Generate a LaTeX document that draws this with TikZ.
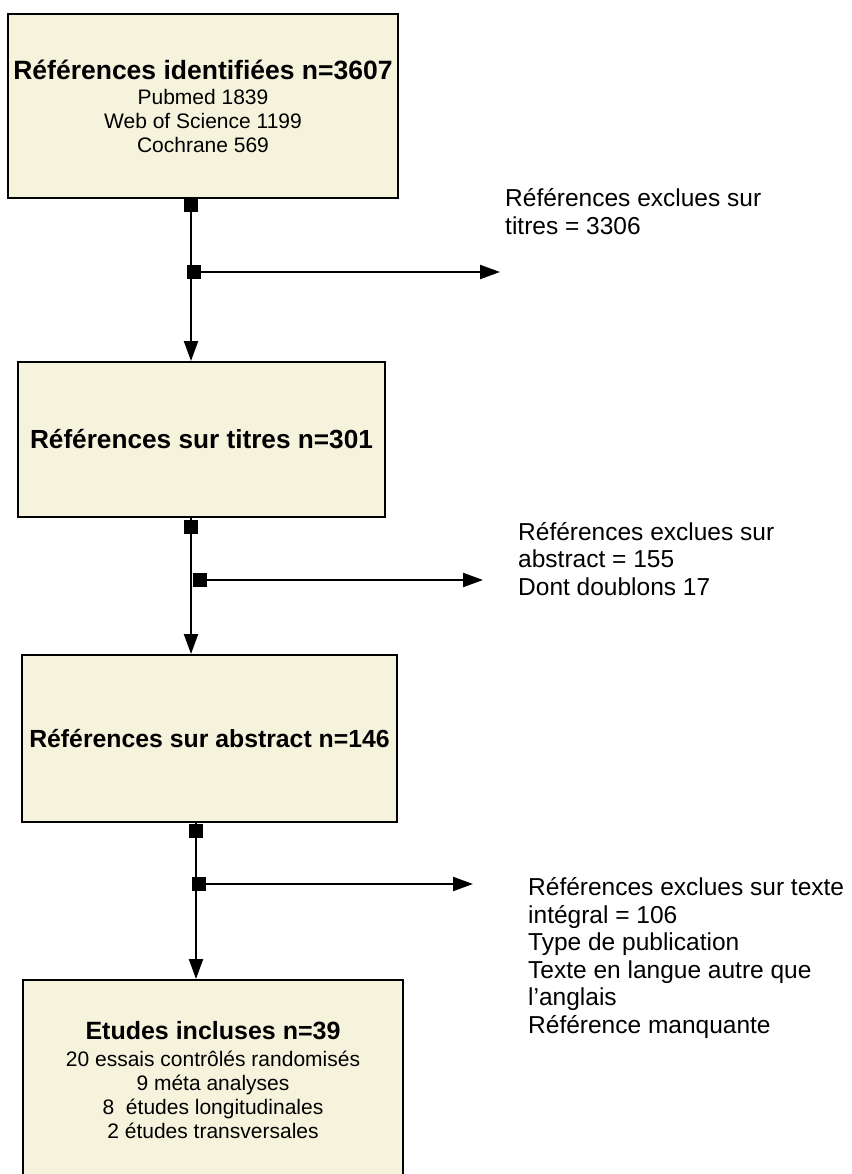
\documentclass[tikz,border=0pt]{standalone}
\usepackage{fontspec}
\setmainfont{Liberation Sans}
\usetikzlibrary{arrows.meta}
\definecolor{boxfill}{RGB}{246,243,221}
\newcommand{\titlefont}[1][26]{\fontsize{#1}{#1}\selectfont\bfseries}
\newcommand{\linefont}{\fontsize{21}{24}\selectfont}
\tikzset{
  stage/.style={draw=black,line width=2pt,fill=boxfill,align=center,inner sep=0pt,font=\linefont},
  joint/.style={fill=black,minimum size=14pt,inner sep=0pt},
  flow/.style={draw=black,line width=2.2pt,-{Triangle[length=20pt,width=14pt]}},
  excl/.style={anchor=west,align=left,inner sep=0pt,font=\fontsize{24.5}{27.5}\selectfont},
}
\begin{document}
\begin{tikzpicture}[x=1pt,y=-1pt]
  \useasboundingbox (0,0) rectangle (851,1174);
  \clip (0,0) rectangle (851,1174);
  % boxes
  \node[stage,minimum width=390pt,minimum height=184pt] (ident) at (203,106)
    {{\titlefont[26.5]Références identifiées n=3607}\\[1pt]Pubmed 1839\\Web of Science 1199\\Cochrane 569};
  \node[stage,minimum width=367pt,minimum height=155pt] (titres) at (201.5,439.5)
    {\titlefont[26.2]Références sur titres n=301};
  \node[stage,minimum width=375pt,minimum height=167pt] (abstr) at (209.5,738.5)
    {\titlefont[24.8]Références sur abstract n=146};
  \node[stage,minimum width=380pt,minimum height=200pt] (incl) at (213,1080)
    {{\titlefont[25]Etudes incluses n=39}\\[3pt]20 essais contrôlés randomisés\\9 méta analyses\\8 \ études longitudinales\\2 études transversales};
  % exclusions
  \node[excl] (exc1) at (505,211.5) {Références exclues sur\\titres = 3306};
  \node[excl] (exc2) at (518,559) {Références exclues sur\\abstract = 155\\Dont doublons 17};
  \node[excl] (exc3) at (528,958) {Références exclues sur texte\\intégral = 106\\Type de publication\\Texte en langue autre que\\l’anglais\\Référence manquante};
  % connectors
  \node[joint] (q1a) at (191,205) {};
  \node[joint] (q1b) at (194,272) {};
  \coordinate (t1) at (500,272);
  \draw[flow] (ident.south -| q1a) -- (titres.north -| q1a);
  \draw[flow] (q1b.center) -- (t1);
  \node[joint] (q2a) at (191,527) {};
  \node[joint] (q2b) at (200,580) {};
  \coordinate (t2) at (483,580);
  \draw[flow] (titres.south -| q2a) -- (abstr.north -| q2a);
  \draw[flow] (q2b.center) -- (t2);
  \node[joint] (q3a) at (196,831) {};
  \node[joint] (q3b) at (199,884) {};
  \coordinate (t3) at (473,884);
  \draw[flow] (abstr.south -| q3a) -- (incl.north -| q3a);
  \draw[flow] (q3b.center) -- (t3);
\end{tikzpicture}
\end{document}
